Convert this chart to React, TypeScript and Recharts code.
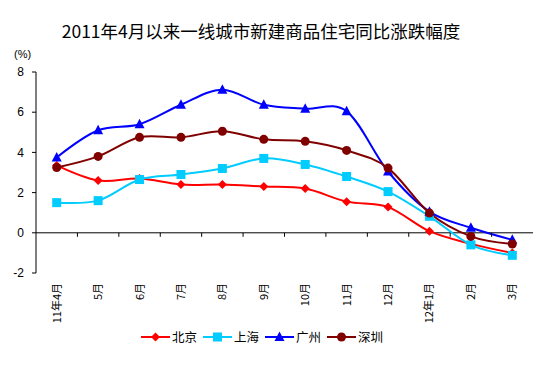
import React from "react";
import { LineChart, Line, XAxis, YAxis, ReferenceLine } from "recharts";

const months = ["11年4月", "5月", "6月", "7月", "8月", "9月", "10月", "11月", "12月", "12年1月", "2月", "3月"];
const beijing = [3.35, 2.6, 2.7, 2.4, 2.4, 2.3, 2.2, 1.55, 1.28, 0.08, -0.55, -1.0];
const shanghai = [1.5, 1.6, 2.65, 2.9, 3.2, 3.7, 3.4, 2.8, 2.05, 0.82, -0.6, -1.12];
const guangzhou = [3.75, 5.1, 5.4, 6.37, 7.12, 6.37, 6.17, 6.05, 3.05, 1.05, 0.25, -0.35];
const shenzhen = [3.25, 3.8, 4.75, 4.75, 5.05, 4.65, 4.55, 4.1, 3.22, 0.98, -0.18, -0.56];
const yTicks = [-2, 0, 2, 4, 6, 8];

const data = months.map((m, i) => ({
  month: m,
  bj: beijing[i],
  sh: shanghai[i],
  gz: guangzhou[i],
  sz: shenzhen[i],
}));

const W = 554;
const H = 366;
const PLOT_LEFT = 36;
const PLOT_RIGHT = 533;
const PLOT_TOP = 72;
const PLOT_BOTTOM = 273;
const STEP = (PLOT_RIGHT - PLOT_LEFT) / months.length;
const ZERO_Y = PLOT_TOP + ((8 - 0) / 10) * (PLOT_BOTTOM - PLOT_TOP);

const FONT = '"Liberation Sans", Arial, "Noto Sans CJK SC", sans-serif';

// excel-like smoothing (catmull-rom / cardinal with tension 0)
function cardinal(context: any) {
  const k = 1 / 6;
  const c: any = {
    _line: NaN,
    _point: 0,
    _x0: NaN, _x1: NaN, _x2: NaN,
    _y0: NaN, _y1: NaN, _y2: NaN,
  };
  const seg = (x: number, y: number) => {
    context.bezierCurveTo(
      c._x1 + k * (c._x2 - c._x0),
      c._y1 + k * (c._y2 - c._y0),
      c._x2 + k * (c._x1 - x),
      c._y2 + k * (c._y1 - y),
      c._x2,
      c._y2
    );
  };
  c.areaStart = () => { c._line = 0; };
  c.areaEnd = () => { c._line = NaN; };
  c.lineStart = () => {
    c._x0 = c._x1 = c._x2 = c._y0 = c._y1 = c._y2 = NaN;
    c._point = 0;
  };
  c.lineEnd = () => {
    switch (c._point) {
      case 2: context.lineTo(c._x2, c._y2); break;
      case 3: seg(c._x1, c._y1); break;
    }
    if (c._line || (c._line !== 0 && c._point === 1)) context.closePath();
    c._line = 1 - c._line;
  };
  c.point = (x: number, y: number) => {
    x = +x; y = +y;
    switch (c._point) {
      case 0: c._point = 1; c._line ? context.lineTo(x, y) : context.moveTo(x, y); break;
      case 1: c._point = 2; c._x1 = x; c._y1 = y; break;
      case 2: c._point = 3; seg(x, y); break;
      default: seg(x, y); break;
    }
    c._x0 = c._x1; c._x1 = c._x2; c._x2 = x;
    c._y0 = c._y1; c._y1 = c._y2; c._y2 = y;
  };
  return c;
}

function Marker({ shape, color, cx, cy }: { shape: string; color: string; cx: number; cy: number }) {
  if (cx == null || cy == null) return null;
  if (shape === "diamond") {
    const r = 4.5;
    return <path d={`M${cx},${cy - r}L${cx + r},${cy}L${cx},${cy + r}L${cx - r},${cy}Z`} fill={color} />;
  }
  if (shape === "square") {
    return <rect x={cx - 4.5} y={cy - 4.5} width={9} height={9} fill={color} />;
  }
  if (shape === "triangle") {
    return <path d={`M${cx},${cy - 5.5}L${cx + 5},${cy + 4}L${cx - 5},${cy + 4}Z`} fill={color} />;
  }
  return <circle cx={cx} cy={cy} r={4.5} fill={color} />;
}

const series = [
  { key: "bj", name: "北京", color: "#FF0000", shape: "diamond" },
  { key: "sh", name: "上海", color: "#00CCFF", shape: "square" },
  { key: "gz", name: "广州", color: "#0000FF", shape: "triangle" },
  { key: "sz", name: "深圳", color: "#800000", shape: "circle" },
];

function MonthTick(props: any) {
  const { x, payload, index } = props;
  return (
    <g>
      {index < months.length - 1 && (
        <line x1={x + STEP / 2} x2={x + STEP / 2} y1={ZERO_Y} y2={ZERO_Y + 4} stroke="#000" />
      )}
      <text
        transform={`translate(${x + 4},${PLOT_BOTTOM + 10}) rotate(-90)`}
        textAnchor="end"
        fontSize={11}
        fontFamily='"Noto Sans CJK SC", sans-serif'
        fill="#000"
      >
        {payload.value}
      </text>
    </g>
  );
}

function LegendIcon({ color, shape }: { color: string; shape: string }) {
  return (
    <svg width={29} height={12} style={{ display: "block" }}>
      <line x1={0} x2={29} y1={6} y2={6} stroke={color} strokeWidth={2} />
      <Marker shape={shape} color={color} cx={14.5} cy={6} />
    </svg>
  );
}

export default function App() {
  return (
    <div style={{ position: "relative", width: W, height: H, background: "#fff", fontFamily: FONT }}>
      <style>{"body{margin:0}"}</style>
      <div
        style={{
          position: "absolute",
          left: 0,
          width: 522,
          top: 18,
          textAlign: "center",
          fontSize: 17.5,
          fontFamily: '"Noto Sans CJK SC", sans-serif',
          color: "#000",
        }}
      >
        2011年4月以来一线城市新建商品住宅同比涨跌幅度
      </div>
      <div style={{ position: "absolute", left: 14, top: 48, fontSize: 11, color: "#000" }}>(%)</div>
      <LineChart
        width={W}
        height={H}
        data={data}
        margin={{ top: PLOT_TOP, right: W - PLOT_RIGHT, left: 10, bottom: 33 }}
      >
        <XAxis
          dataKey="month"
          height={60}
          interval={0}
          axisLine={false}
          tickLine={false}
          padding={{ left: STEP / 2, right: STEP / 2 }}
          tick={<MonthTick />}
        />
        <YAxis
          width={26}
          domain={[-2, 8]}
          ticks={yTicks}
          interval={0}
          axisLine={{ stroke: "#000" }}
          tickLine={{ stroke: "#000" }}
          tickSize={4}
          tickMargin={8}
          tick={{ fill: "#000", fontSize: 12, fontFamily: FONT }}
        />
        <ReferenceLine y={0} stroke="#000" />
        {series.map((s) => (
          <Line
            key={s.key}
            dataKey={s.key}
            name={s.name}
            type={cardinal as any}
            stroke={s.color}
            strokeWidth={2}
            isAnimationActive={false}
            dot={(p: any) => <Marker key={`${s.key}-${p.index}`} shape={s.shape} color={s.color} cx={p.cx} cy={p.cy} />}
            activeDot={false}
          />
        ))}
      </LineChart>
      <div
        style={{
          position: "absolute",
          left: 141,
          top: 327,
          display: "flex",
          alignItems: "center",
          fontSize: 12.5,
          fontFamily: '"Noto Sans CJK SC", sans-serif',
          color: "#000",
        }}
      >
        {series.map((s) => (
          <div key={s.key} style={{ display: "flex", alignItems: "center", marginRight: 6 }}>
            <LegendIcon color={s.color} shape={s.shape} />
            <span style={{ marginLeft: 2 }}>{s.name}</span>
          </div>
        ))}
      </div>
    </div>
  );
}
